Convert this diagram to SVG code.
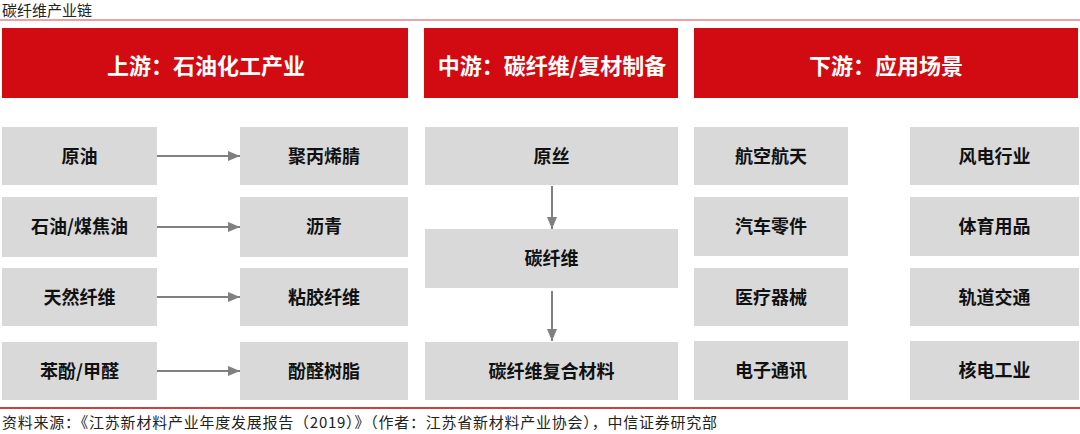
<svg xmlns="http://www.w3.org/2000/svg" width="1080" height="434" viewBox="0 0 1080 434">
<defs>
<style>
.hdr{fill:#d20a11;}
.hdrt{fill:#ffffff;font-family:"Noto Sans CJK SC","Liberation Sans",sans-serif;font-size:22px;font-weight:bold;text-anchor:middle;}
.box{fill:#d9d9d9;}
.bt{fill:#111111;font-family:"Noto Sans CJK SC","Liberation Sans",sans-serif;font-size:18px;font-weight:bold;text-anchor:middle;}
.cap{fill:#222222;font-family:"Noto Sans CJK SC","Liberation Sans",sans-serif;font-size:15px;}
.arr{stroke:#808080;stroke-width:2;fill:none;marker-end:url(#ah);}
</style>
<marker id="ah" markerWidth="6" markerHeight="6" refX="6" refY="3" orient="auto" markerUnits="strokeWidth">
<path d="M0,0.5 L6,3 L0,5.5 Z" fill="#808080"/>
</marker>
</defs>
<rect width="1080" height="434" fill="#ffffff"/>
<text class="cap" x="2" y="16">碳纤维产业链</text>
<line x1="0" y1="20" x2="1080" y2="20" stroke="#d9464b" stroke-width="1.2"/>

<g id="hdr-up"><rect class="hdr" x="2" y="28" width="406" height="70"/><text class="hdrt" x="206" y="74">上游：石油化工产业</text></g>
<g id="hdr-mid"><rect class="hdr" x="424" y="28" width="254" height="70"/><text class="hdrt" x="552" y="74">中游：碳纤维/复材制备</text></g>
<g id="hdr-down"><rect class="hdr" x="694" y="28" width="384" height="70"/><text class="hdrt" x="886" y="74">下游：应用场景</text></g>

<g id="n-yuanyou"><rect class="box" x="2" y="127" width="155" height="58"/><text class="bt" x="79.5" y="163">原油</text></g>
<g id="n-shiyou"><rect class="box" x="2" y="197" width="155" height="60"/><text class="bt" x="79.5" y="233">石油/煤焦油</text></g>
<g id="n-tianran"><rect class="box" x="2" y="268" width="155" height="58"/><text class="bt" x="79.5" y="304">天然纤维</text></g>
<g id="n-benfen"><rect class="box" x="2" y="342" width="155" height="58"/><text class="bt" x="79.5" y="378">苯酚/甲醛</text></g>

<g id="n-pan"><rect class="box" x="240" y="127" width="168" height="58"/><text class="bt" x="324" y="163">聚丙烯腈</text></g>
<g id="n-liqing"><rect class="box" x="240" y="197" width="168" height="60"/><text class="bt" x="324" y="233">沥青</text></g>
<g id="n-nianjiao"><rect class="box" x="240" y="268" width="168" height="58"/><text class="bt" x="324" y="304">粘胶纤维</text></g>
<g id="n-fenquan"><rect class="box" x="240" y="342" width="168" height="58"/><text class="bt" x="324" y="378">酚醛树脂</text></g>

<g id="n-yuansi"><rect class="box" x="425" y="127" width="253" height="58"/><text class="bt" x="551.5" y="163">原丝</text></g>
<g id="n-tanxianwei"><rect class="box" x="425" y="229" width="253" height="59"/><text class="bt" x="551.5" y="265">碳纤维</text></g>
<g id="n-fuhe"><rect class="box" x="425" y="342" width="253" height="58"/><text class="bt" x="551.5" y="378">碳纤维复合材料</text></g>

<g id="n-hangkong"><rect class="box" x="694" y="127" width="154" height="58"/><text class="bt" x="771" y="163">航空航天</text></g>
<g id="n-qiche"><rect class="box" x="694" y="197" width="154" height="59"/><text class="bt" x="771" y="233">汽车零件</text></g>
<g id="n-yiliao"><rect class="box" x="694" y="268" width="154" height="58"/><text class="bt" x="771" y="304">医疗器械</text></g>
<g id="n-dianzi"><rect class="box" x="694" y="341" width="154" height="59"/><text class="bt" x="771" y="377">电子通讯</text></g>

<g id="n-fengdian"><rect class="box" x="910" y="127" width="169" height="58"/><text class="bt" x="994.5" y="163">风电行业</text></g>
<g id="n-tiyu"><rect class="box" x="910" y="197" width="169" height="59"/><text class="bt" x="994.5" y="233">体育用品</text></g>
<g id="n-guidao"><rect class="box" x="910" y="268" width="169" height="58"/><text class="bt" x="994.5" y="304">轨道交通</text></g>
<g id="n-hedian"><rect class="box" x="910" y="341" width="169" height="59"/><text class="bt" x="994.5" y="377">核电工业</text></g>

<g id="connectors">
<line class="arr" x1="157" y1="156" x2="240" y2="156"/>
<line class="arr" x1="157" y1="227" x2="240" y2="227"/>
<line class="arr" x1="157" y1="297" x2="240" y2="297"/>
<line class="arr" x1="157" y1="371" x2="240" y2="371"/>
<line class="arr" x1="552" y1="186" x2="552" y2="229"/>
<line class="arr" x1="552" y1="291" x2="552" y2="341"/>
</g>

<line x1="0" y1="408" x2="1080" y2="408" stroke="#c00000" stroke-width="1.5"/>
<text class="cap" x="2" y="428" textLength="715" lengthAdjust="spacing">资料来源：《江苏新材料产业年度发展报告（2019）》（作者：江苏省新材料产业协会），中信证券研究部</text>
</svg>
